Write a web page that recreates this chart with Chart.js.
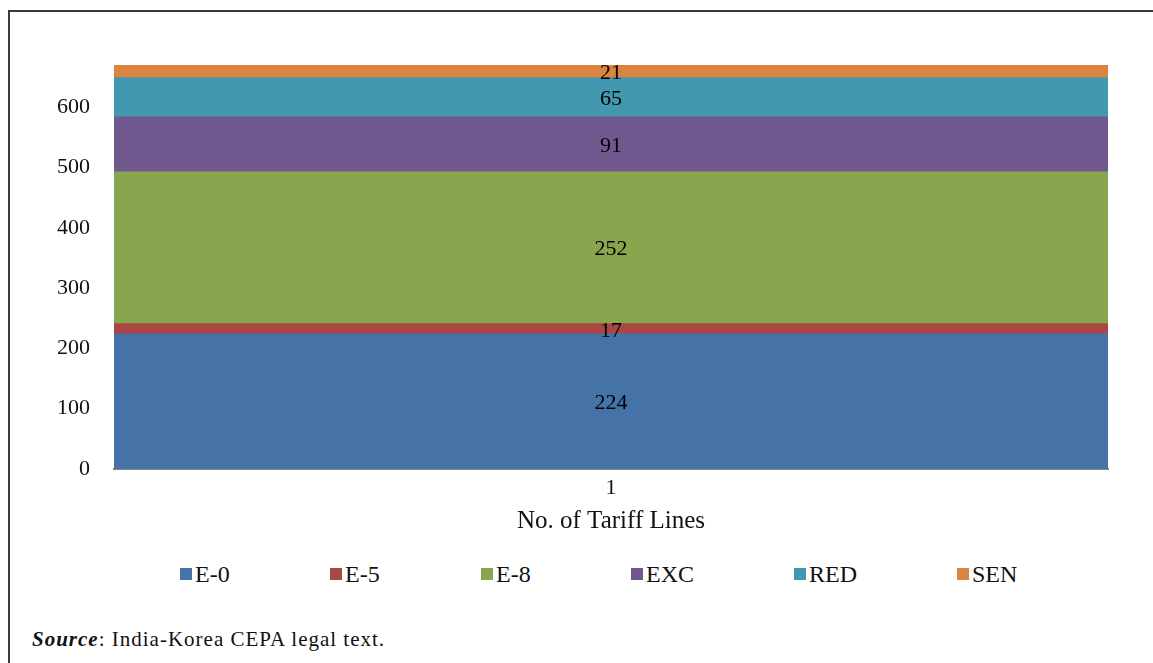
<!DOCTYPE html>
<html>
<head>
<meta charset="utf-8">
<script src="https://cdn.jsdelivr.net/npm/chart.js@4"></script>
<style>
  html, body { margin: 0; padding: 0; background: #fff; }
  body { width: 1153px; height: 663px; position: relative; overflow: hidden; font-family: 'Liberation Serif', serif; color: #111; }
  .frame { position: absolute; left: 8px; top: 10px; width: 1200px; height: 700px; border-top: 2px solid #3a3a3a; border-left: 2px solid #3a3a3a; }
  .chart-box { position: absolute; left: 0; top: 0; width: 1153px; height: 545px; }
  .legend { position: absolute; top: 562px; left: 0; width: 1153px; height: 24px; }
  .legend-item { position: absolute; display: flex; align-items: center; font-size: 24px; line-height: 24px; }
  .legend-dot { width: 12px; height: 12px; margin-right: 3px; }
  .source { position: absolute; left: 32px; top: 629px; font-size: 21px; line-height: 21px; letter-spacing: 1px; }
</style>
</head>
<body>
<div class="frame"></div>
<div class="chart-box"><canvas id="tariffChart"></canvas></div>
<div class="legend" id="tariffLegend"></div>
<div class="source"><b><i>Source</i></b>: India-Korea CEPA legal text.</div>

<script>
// ===== Dados =====
const categories = ['1'];
const seriesNames = ['E-0', 'E-5', 'E-8', 'EXC', 'RED', 'SEN'];
const seriesValues = [224, 17, 252, 91, 65, 21];
const seriesColors = ['#4572A7', '#AA4643', '#89A54E', '#71588F', '#4198AF', '#DB843D'];
const yTicks = [0, 100, 200, 300, 400, 500, 600];
const yMax = 670;
const legendLefts = [180, 330, 481, 631, 794, 957];

const FONT = "'Liberation Serif', serif";

// ===== Rótulos dentro das barras =====
const segmentLabels = {
  id: 'segmentLabels',
  afterDatasetsDraw(chart) {
    const ctx = chart.ctx;
    ctx.save();
    ctx.font = `22px ${FONT}`;
    ctx.fillStyle = '#000';
    ctx.textAlign = 'center';
    ctx.textBaseline = 'middle';
    chart.data.datasets.forEach((ds, i) => {
      const meta = chart.getDatasetMeta(i);
      meta.data.forEach((bar, j) => {
        const { x, y, base } = bar.getProps(['x', 'y', 'base'], true);
        ctx.fillText(String(ds.data[j]), x, (y + base) / 2 + 2);
      });
    });
    ctx.restore();
  },
};

function renderLegend() {
  const legend = document.getElementById('tariffLegend');
  legend.innerHTML = seriesNames
    .map(
      (name, i) => `
      <div class="legend-item" style="left: ${legendLefts[i]}px">
        <span class="legend-dot" style="background: ${seriesColors[i]}"></span>
        <span>${name}</span>
      </div>`
    )
    .join('');
}

function renderChart() {
  const canvas = document.getElementById('tariffChart');
  new Chart(canvas, {
    type: 'bar',
    data: {
      labels: categories,
      datasets: seriesNames.map((name, i) => ({
        label: name,
        data: [seriesValues[i]],
        backgroundColor: seriesColors[i],
        borderWidth: 0,
        barPercentage: 1,
        categoryPercentage: 1,
      })),
    },
    options: {
      responsive: true,
      maintainAspectRatio: false,
      animation: false,
      layout: { padding: { top: 65, right: 45, left: 0, bottom: 0 } },
      scales: {
        x: {
          stacked: true,
          z: 1,
          grid: { display: false, drawTicks: false },
          border: { display: true, color: '#868686', width: 2 },
          ticks: { padding: 6, color: '#111', font: { family: FONT, size: 22 } },
          title: {
            display: true,
            text: 'No. of Tariff Lines',
            color: '#111',
            font: { family: FONT, size: 25 },
            padding: { top: 0, bottom: 9 },
          },
          afterFit: (scale) => { scale.height = 76; },
        },
        y: {
          stacked: true,
          min: 0,
          max: yMax,
          grid: { display: false, drawTicks: false },
          border: { display: false },
          ticks: { stepSize: 100, padding: 24, color: '#111', font: { family: FONT, size: 22 } },
          afterBuildTicks: (scale) => {
            scale.ticks = yTicks.map((v) => ({ value: v }));
          },
          afterFit: (scale) => { scale.width = 114; },
        },
      },
      plugins: {
        legend: { display: false },
        tooltip: { enabled: false },
      },
    },
    plugins: [segmentLabels],
  });
}

renderLegend();
renderChart();
</script>
</body>
</html>
